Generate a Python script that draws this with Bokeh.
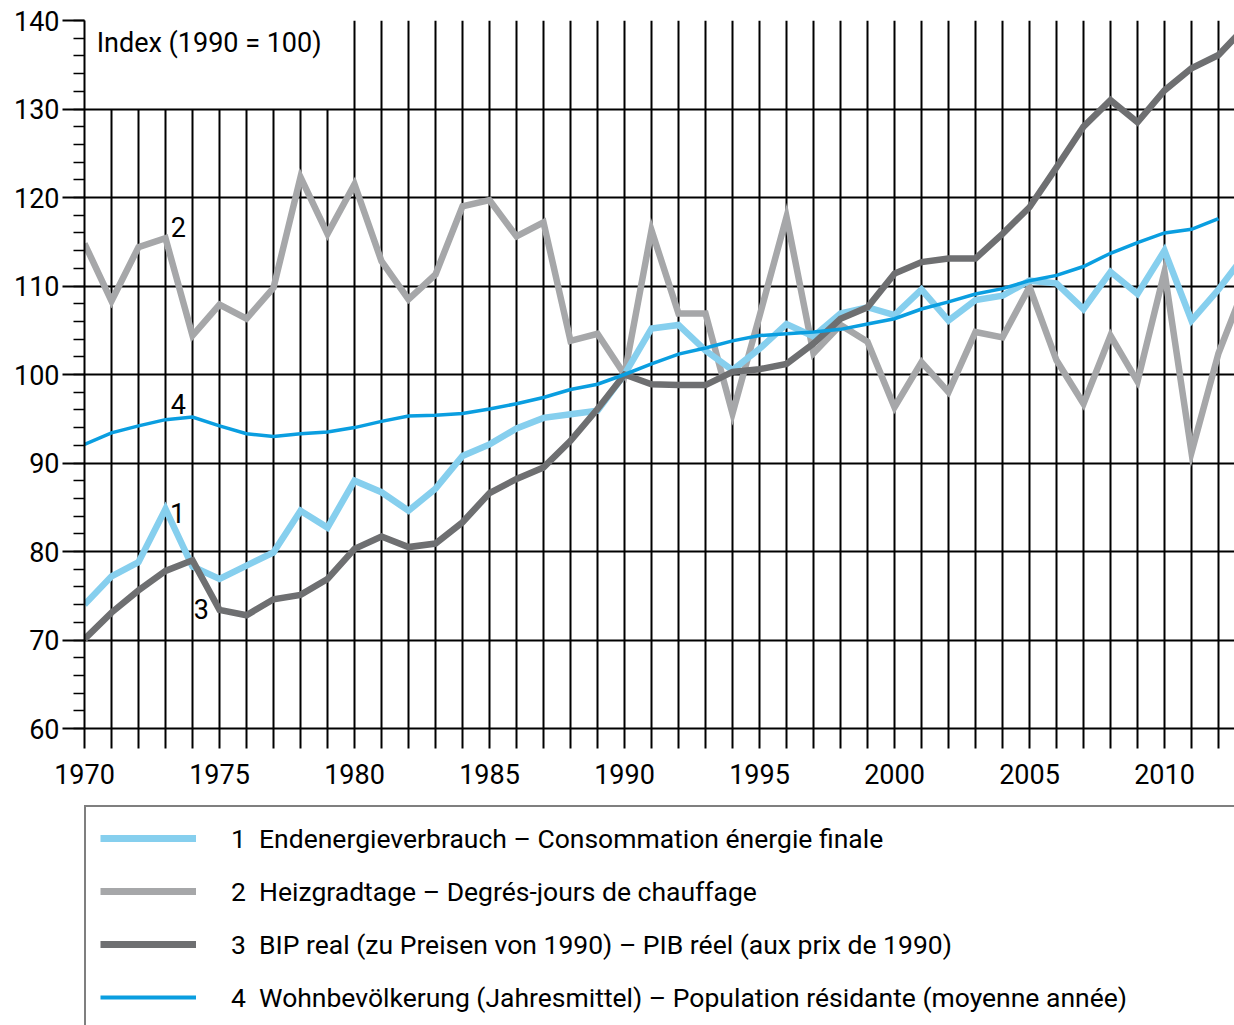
from bokeh.plotting import figure
from bokeh.models import FixedTicker, Legend, LegendItem, Range1d, ColumnDataSource
from bokeh.layouts import column
from bokeh.embed import file_html
from bokeh.resources import INLINE
from bokeh.core.properties import value

# ---------------- data ----------------
years = list(range(1970, 2014))
years_pop = list(range(1970, 2013))

energy = [74.0, 77.2, 78.8, 84.8, 78.3, 76.9, 78.4, 79.9, 84.6, 82.7,
          88.0, 86.7, 84.6, 87.1, 90.8, 92.1, 93.9, 95.1, 95.5, 95.9,
          100.0, 105.2, 105.6, 102.7, 100.5, 102.9, 105.7, 104.3, 106.9, 107.6,
          106.7, 109.6, 106.1, 108.4, 108.9, 110.6, 110.3, 107.4, 111.6, 109.1,
          114.0, 106.1, 109.6, 113.6]

hdd = [114.8, 108.3, 114.4, 115.4, 104.4, 107.9, 106.3, 109.8, 122.3, 115.9,
       121.5, 112.8, 108.5, 111.3, 119.0, 119.7, 115.6, 117.2, 103.8, 104.6,
       100.0, 116.3, 106.9, 106.9, 95.6, 106.6, 117.8, 102.4, 105.6, 103.7,
       96.3, 101.4, 98.0, 104.8, 104.2, 109.9, 101.6, 96.7, 104.4, 99.2,
       111.6, 91.2, 102.4, 110.2]

gdp = [70.1, 73.1, 75.6, 77.8, 79.0, 73.4, 72.8, 74.6, 75.1, 76.9,
       80.3, 81.7, 80.5, 80.9, 83.3, 86.6, 88.2, 89.5, 92.5, 96.1,
       100.0, 98.9, 98.8, 98.8, 100.3, 100.6, 101.2, 103.5, 106.3, 107.6,
       111.4, 112.7, 113.1, 113.1, 115.9, 118.9, 123.4, 128.0, 131.0, 128.5,
       132.1, 134.6, 136.1, 139.3]

pop = [92.1, 93.4, 94.2, 94.9, 95.2, 94.2, 93.3, 93.0, 93.3, 93.5,
       94.0, 94.7, 95.3, 95.4, 95.6, 96.1, 96.7, 97.4, 98.3, 98.9,
       100.0, 101.2, 102.3, 103.0, 103.8, 104.4, 104.6, 104.8, 105.1, 105.7,
       106.3, 107.4, 108.2, 109.1, 109.7, 110.6, 111.2, 112.2, 113.7, 114.9,
       116.0, 116.4, 117.6]

series_names = [
    "1  Endenergieverbrauch \u2013 Consommation \u00e9nergie finale",
    "2  Heizgradtage \u2013 Degr\u00e9s-jours de chauffage",
    "3  BIP real (zu Preisen von 1990) \u2013 PIB r\u00e9el (aux prix de 1990)",
    "4  Wohnbev\u00f6lkerung (Jahresmittel) \u2013 Population r\u00e9sidante (moyenne ann\u00e9e)",
]
index_title = "Index (1990 = 100)"
y_ticks = list(range(60, 141, 10))
y_minor = list(range(60, 141, 2))
x_ticks = list(range(1970, 2013))

# ---------------- style ----------------
FONT = "Roboto"
FS = "27px"
LFS = "26.5px"
C1 = "#86cfee"
C2 = "#a6a7a9"
C3 = "#6e6f71"
C4 = "#0a9ee0"

X_END = 1970 + 1150 / 27.0

p = figure(width=1234, height=800,
           x_range=Range1d(1970, X_END), y_range=Range1d(60, 140),
           output_backend="svg", toolbar_location=None,
           min_border_left=84, min_border_right=0,
           min_border_top=20, min_border_bottom=72)
p.outline_line_color = None
p.xgrid.visible = False
p.ygrid.ticker = FixedTicker(ticks=y_ticks)
p.ygrid.grid_line_color = "black"
p.ygrid.grid_line_width = 2

# vertical year lines (the ones in the title box start at 130)
vx = [y for y in x_ticks if y > 1970]
vtop = [130 if y < 1980 else 140 for y in vx]
p.segment(x0=vx, y0=[60] * len(vx), x1=vx, y1=vtop, line_color="black", line_width=2)

# axes
p.xaxis.ticker = FixedTicker(ticks=x_ticks)
p.xaxis.major_label_overrides = {y: (str(y) if y % 5 == 0 else "") for y in x_ticks}
p.xaxis.major_tick_out = 20
p.xaxis.major_tick_in = 0
p.xaxis.minor_tick_out = 0
p.xaxis.major_tick_line_width = 2
p.xaxis.axis_line_width = 2
p.xaxis.major_label_standoff = 15
p.xaxis.major_label_text_font = FONT
p.xaxis.major_label_text_font_size = FS
p.xaxis.major_label_text_color = "black"

p.yaxis.ticker = FixedTicker(ticks=y_ticks, minor_ticks=y_minor)
p.yaxis.major_tick_out = 22
p.yaxis.major_tick_in = 0
p.yaxis.minor_tick_out = 11
p.yaxis.minor_tick_in = 0
p.yaxis.major_tick_line_width = 2
p.yaxis.minor_tick_line_width = 1.5
p.yaxis.axis_line_width = 2
p.yaxis.major_label_standoff = 3
p.yaxis.major_label_text_font = FONT
p.yaxis.major_label_text_font_size = FS
p.yaxis.major_label_text_color = "black"

# series
r2 = p.line(years, hdd, line_color=C2, line_width=6.5, line_join="miter")
r1 = p.line(years, energy, line_color=C1, line_width=6.5, line_join="miter")
r3 = p.line(years, gdp, line_color=C3, line_width=6.5, line_join="miter")
r4 = p.line(years_pop, pop, line_color=C4, line_width=3.5, line_join="miter")

# annotations
p.text(x=[1970.45], y=[137.5], text=[index_title], text_font=value(FONT),
       text_font_size=FS, text_baseline="middle", text_align="left", text_color="black")
num_src = ColumnDataSource(dict(x=[1973.45, 1973.48, 1974.33, 1973.48],
                                y=[84.3, 116.7, 73.55, 96.7],
                                t=["1", "2", "3", "4"]))
p.text(x="x", y="y", text="t", source=num_src, text_font=value(FONT),
       text_font_size=FS, text_baseline="middle", text_align="center", text_color="black")

# ---------------- legend panel ----------------
# The same series are added here (outside this panel's visible range) only so
# that the legend can draw their line samples.
q = figure(width=1234, height=225, x_range=(0, 1), y_range=(0, 1),
           x_axis_type=None, y_axis_type=None,
           output_backend="svg", toolbar_location=None,
           min_border_left=84, min_border_right=0, min_border_top=5, min_border_bottom=0)
q.grid.visible = False
q.outline_line_color = None
l1 = q.line(years, energy, line_color=C1, line_width=7)
l2 = q.line(years, hdd, line_color=C2, line_width=7)
l3 = q.line(years, gdp, line_color=C3, line_width=7)
l4 = q.line(years_pop, pop, line_color=C4, line_width=4)
legend = Legend(items=[LegendItem(label=series_names[0], renderers=[l1]),
                       LegendItem(label=series_names[1], renderers=[l2]),
                       LegendItem(label=series_names[2], renderers=[l3]),
                       LegendItem(label=series_names[3], renderers=[l4])],
                location="top_left", margin=0, padding=14, spacing=19,
                glyph_width=96, glyph_height=34, label_height=34,
                label_standoff=35, label_width=1100,
                label_text_font=FONT, label_text_font_size=LFS, label_text_color="black",
                border_line_color="black", border_line_width=2,
                background_fill_alpha=1)
q.add_layout(legend)

layout = column(p, q, spacing=0)
open("out.html", "w").write(file_html(layout, INLINE))
